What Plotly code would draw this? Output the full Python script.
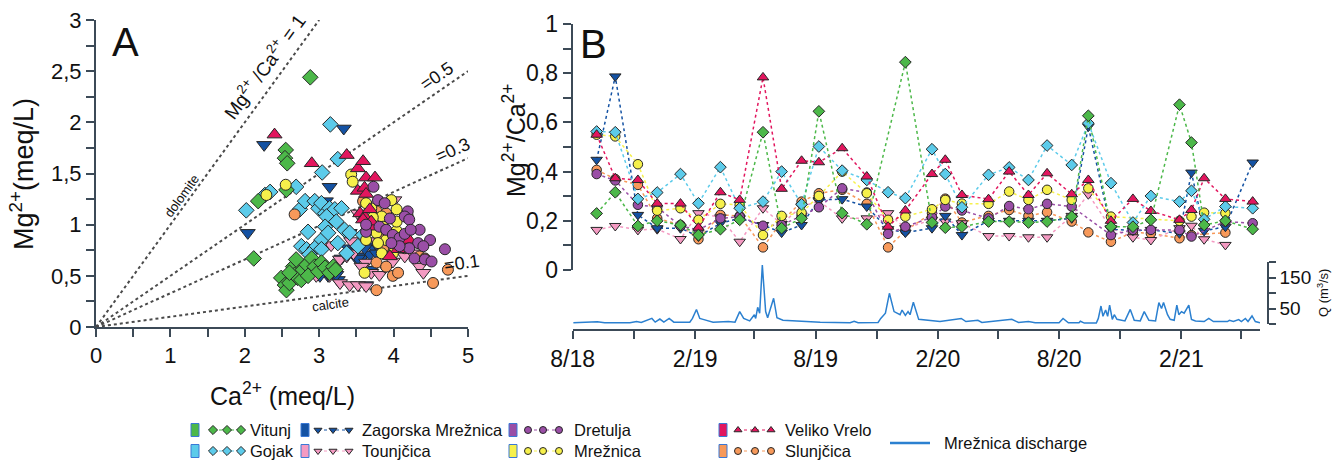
import plotly.graph_objects as go
import pandas as pd

W, H = 1337, 461
FONT = "Liberation Sans, Arial, sans-serif"
NARROW = "Liberation Sans Narrow, Liberation Sans, Arial, sans-serif"

# ---------------- DATA ----------------
series_names = ["Vitunj", "Gojak", "Zagorska Mrežnica", "Tounjčica",
                "Dretulja", "Mrežnica", "Veliko Vrelo", "Slunjčica"]

# Panel A: Ca2+ and Mg2+ (meq/L)
vitunj_ca = [2.88, 2.55, 2.54, 2.57, 2.56, 2.18, 2.12, 2.49, 2.54, 2.56, 2.6, 2.65, 2.67, 2.71, 2.76, 2.78, 2.83, 2.85, 2.9, 2.94, 2.99, 3.03, 3.08, 3.14, 3.19, 3.22, 2.6, 2.69]
vitunj_mg = [2.44, 1.73, 1.65, 1.6, 1.34, 1.23, 0.67, 0.48, 0.41, 0.36, 0.43, 0.59, 0.51, 0.48, 0.46, 0.56, 0.61, 0.5, 0.67, 0.59, 0.54, 0.63, 0.58, 0.53, 0.59, 0.56, 0.53, 0.66]
gojak_ca = [3.15, 2.02, 2.27, 2.34, 2.69, 3.04, 3.25, 2.74, 2.81, 2.94, 2.99, 3.03, 3.08, 3.14, 3.21, 3.3, 3.1, 3.08, 3.23, 3.34, 3.41, 2.85, 3.03, 3.12, 3.25, 2.76, 2.83, 2.94, 3.03, 2.87, 3.52, 3.59, 3.37]
gojak_mg = [1.98, 1.14, 1.29, 1.32, 1.37, 1.51, 1.64, 1.15, 1.23, 1.23, 1.16, 1.21, 1.11, 1.16, 1.15, 1.16, 1.08, 0.98, 1.03, 0.95, 0.92, 0.93, 0.85, 0.92, 0.82, 0.79, 0.76, 0.77, 0.76, 0.71, 0.79, 0.9, 0.72]
zagorska_ca = [3.33, 2.26, 3.14, 2.04, 3.09, 3.25, 3.12, 3.41, 3.39, 3.48, 3.54, 3.59, 3.68, 3.72, 3.63, 3.7, 3.3, 3.01, 3.81, 3.46, 3.23, 3.61, 3.52, 3.77]
zagorska_mg = [1.94, 1.78, 1.37, 0.92, 1.23, 0.46, 0.5, 0.92, 0.77, 0.69, 0.79, 0.69, 0.71, 0.79, 0.41, 0.56, 0.67, 0.5, 0.77, 0.74, 0.51, 0.77, 0.67, 0.72]
tounjcica_ca = [2.96, 3.14, 3.28, 3.41, 3.52, 3.63, 3.7, 3.81, 3.88, 3.28, 3.37, 3.46, 3.16, 3.43, 3.52, 4.01, 3.77, 4.15, 4.26, 4.35, 4.4, 3.63, 3.01, 3.9, 3.57, 3.99]
tounjcica_mg = [0.5, 0.5, 0.43, 0.41, 0.41, 0.4, 0.53, 0.51, 0.59, 0.66, 0.69, 0.72, 0.8, 0.84, 1.11, 1.24, 0.84, 0.69, 0.72, 0.59, 0.53, 0.63, 0.79, 0.72, 0.59, 0.64]
dretulja_ca = [3.73, 3.79, 3.88, 4.19, 4.15, 4.21, 3.63, 3.81, 3.9, 3.99, 4.08, 4.35, 4.49, 4.33, 4.21, 4.08, 4.4, 4.69, 4.28, 4.42, 4.51, 3.97, 4.15, 3.63, 3.95, 4.23]
dretulja_mg = [1.37, 1.24, 1.21, 1.13, 1.08, 1.05, 0.93, 0.98, 0.95, 0.9, 0.87, 0.95, 0.85, 0.82, 0.77, 0.79, 0.79, 0.76, 0.67, 0.66, 0.64, 0.82, 0.91, 1.0, 1.06, 0.95]
mreznica_ca = [2.55, 2.29, 3.43, 3.45, 3.7, 3.63, 3.84, 3.72, 4.04, 4.19, 3.63, 3.93, 3.86, 3.9, 3.77, 3.61, 4.04, 3.99, 3.84, 3.79, 4.04, 3.97]
mreznica_mg = [1.39, 1.29, 1.49, 1.42, 1.16, 1.21, 1.08, 1.07, 1.15, 1.08, 0.85, 0.92, 0.98, 0.85, 0.92, 0.53, 0.94, 0.72, 0.72, 0.82, 1.03, 1.24]
veliko_ca = [2.4, 2.9, 3.37, 3.52, 3.59, 3.52, 3.61, 3.63, 3.75, 3.55, 3.61, 3.68, 3.59, 3.75, 4.06, 3.95, 4.21, 3.7, 3.63]
veliko_mg = [1.88, 1.6, 1.68, 1.55, 1.62, 1.33, 1.36, 1.46, 1.46, 1.11, 1.08, 1.15, 1.05, 0.98, 0.76, 0.69, 0.85, 1.03, 1.3]
slunjcica_ca = [2.67, 3.59, 3.77, 3.9, 3.77, 3.9, 3.99, 4.06, 3.77, 4.53, 4.73, 4.35, 4.42, 3.81, 3.86, 4.06, 4.15]
slunjcica_mg = [1.1, 1.23, 1.13, 1.11, 0.63, 0.59, 0.5, 0.53, 0.36, 0.43, 0.56, 0.69, 0.67, 0.88, 0.77, 0.85, 0.77]

# Reference Mg/Ca ratio lines in panel A
ratio_lines = [1.0, 0.5, 0.33, 0.1]

# Panel B: sampling dates and Mg2+/Ca2+ ratio
sample_dates = ["2018-09-06", "2018-10-04", "2018-11-07", "2018-12-06", "2019-01-10", "2019-02-06",
                "2019-03-11", "2019-04-09", "2019-05-14", "2019-06-11", "2019-07-11", "2019-08-06",
                "2019-09-10", "2019-10-17", "2019-11-18", "2019-12-14", "2020-01-23", "2020-02-12",
                "2020-03-08", "2020-04-17", "2020-05-18", "2020-06-16", "2020-07-14", "2020-08-20",
                "2020-09-14", "2020-10-18", "2020-11-20", "2020-12-17", "2021-01-29", "2021-02-16",
                "2021-03-07", "2021-04-08", "2021-05-19"]
vitunj_ratio = [0.23, 0.316, 0.179, 0.20, 0.183, 0.142, 0.166, 0.204, 0.56, 0.17, 0.21, 0.645, 0.231, 0.186, None, 0.845, 0.193, 0.172, 0.176, 0.197, 0.197, 0.193, 0.197, 0.217, 0.627, 0.176, 0.176, 0.204, 0.672, 0.518, 0.183, 0.20, 0.166]
gojak_ratio = [0.563, 0.56, 0.289, 0.315, 0.39, 0.271, 0.418, 0.251, 0.278, 0.40, 0.267, 0.502, 0.404, 0.366, 0.316, 0.292, 0.491, 0.39, 0.255, 0.387, 0.417, 0.366, 0.506, 0.427, 0.597, 0.353, 0.193, 0.301, 0.278, 0.322, 0.206, 0.258, 0.251]
zagorska_ratio = [0.448, 0.787, 0.224, 0.17, 0.17, 0.136, 0.19, 0.21, 0.183, 0.152, 0.183, 0.285, 0.288, 0.258, 0.166, 0.152, 0.17, 0.22, 0.142, 0.20, 0.20, 0.20, 0.20, 0.21, 0.583, 0.166, 0.16, 0.163, 0.149, 0.396, 0.159, 0.176, 0.437]
tounjcica_ratio = [0.163, 0.179, 0.163, 0.166, 0.126, 0.231, 0.214, 0.115, 0.251, 0.187, 0.258, 0.28, 0.21, 0.21, 0.231, 0.17, 0.204, 0.197, 0.19, 0.138, 0.138, 0.133, 0.133, 0.22, 0.308, 0.17, 0.133, 0.122, 0.17, 0.18, 0.125, 0.102, None]
dretulja_ratio = [0.39, 0.364, 0.265, 0.255, 0.179, 0.163, 0.21, 0.217, 0.18, 0.183, 0.22, 0.255, 0.332, 0.315, 0.147, 0.176, 0.214, 0.258, 0.242, 0.21, 0.26, 0.247, 0.269, 0.258, None, 0.142, 0.163, 0.163, 0.163, 0.136, None, 0.197, 0.19]
mreznica_ratio = [0.55, 0.543, 0.43, 0.241, 0.251, 0.204, 0.269, 0.265, 0.142, 0.22, 0.233, 0.301, 0.40, 0.312, 0.204, 0.217, 0.247, 0.285, 0.27, 0.269, 0.319, 0.285, 0.326, 0.285, 0.332, 0.217, None, None, 0.20, 0.217, 0.233, 0.231, None]
veliko_ratio = [0.55, 0.373, 0.366, 0.27, 0.27, 0.172, 0.316, 0.285, 0.783, 0.33, 0.444, 0.438, 0.495, 0.38, 0.176, 0.242, 0.39, 0.448, 0.305, 0.288, 0.40, 0.305, 0.393, 0.308, 0.366, 0.20, 0.289, 0.24, 0.204, 0.244, 0.373, 0.289, 0.278]
slunjcica_ratio = [0.407, 0.37, 0.346, 0.21, 0.183, 0.125, 0.224, 0.22, 0.092, 0.197, 0.278, 0.312, 0.326, 0.269, 0.092, 0.16, 0.231, 0.29, 0.193, 0.22, 0.244, 0.22, 0.235, 0.197, 0.153, 0.115, 0.153, 0.149, 0.129, 0.142, None, 0.152, None]

# Mrežnica discharge (days after 2018-08-01, m3/s)
q_start = "2018-08-01"
q_day = [1, 37, 48, 86, 96, 103, 119, 124, 131, 137,
         145, 152, 176, 180, 186, 191, 196, 211, 234, 244,
         251, 257, 266, 273, 275, 278, 281, 285, 290, 293,
         302, 307, 316, 342, 372, 417, 423, 429, 459, 463,
         470, 476, 483, 492, 495, 500, 504, 507, 512, 520,
         552, 584, 591, 609, 615, 660, 670, 685, 695, 731,
         737, 745, 761, 763, 769, 787, 790, 794, 797, 801,
         804, 807, 811, 814, 818, 830, 838, 844, 853, 859,
         866, 876, 881, 885, 888, 894, 898, 904, 908, 911,
         915, 919, 922, 926, 930, 936, 949, 956, 963, 984,
         987, 993, 1001, 1005, 1011, 1015, 1021, 1026, 1033]
q_val = [4, 7, 4, 4, 8, 5, 18, 6, 16, 6,
         18, 6, 6, 18, 47, 18, 15, 6, 8, 6,
         40, 18, 10, 30, 18, 54, 35, 190, 40, 20,
         83, 20, 12, 9, 6, 4, 9, 4, 5, 18,
         35, 99, 40, 30, 45, 28, 40, 30, 70, 15,
         8, 18, 8, 12, 5, 15, 5, 8, 4, 4,
         18, 4, 4, 9, 3, 3, 18, 58, 25, 45,
         25, 61, 15, 30, 15, 10, 47, 12, 10, 40,
         12, 10, 69, 50, 69, 30, 15, 12, 61, 30,
         40, 35, 45, 61, 15, 10, 8, 18, 8, 8,
         12, 8, 14, 8, 18, 8, 26, 8, 4]

# Axis tick labels
a_x_ticks = [0, 1, 2, 3, 4, 5]
a_y_ticks = [0, 0.5, 1, 1.5, 2, 2.5, 3]
a_y_text = ["0", "0,5", "1", "1,5", "2", "2,5", "3"]
b_y_ticks = [0, 0.2, 0.4, 0.6, 0.8, 1]
b_y_text = ["0", "0,2", "0,4", "0,6", "0,8", "1"]
time_ticks = ["2018-08-01", "2019-02-01", "2019-08-01", "2020-02-01", "2020-08-01", "2021-02-01"]
time_text = ["8/18", "2/19", "8/19", "2/20", "8/20", "2/21"]
time_minor = ["2018-11-01", "2019-05-01", "2019-11-01", "2020-05-01", "2020-11-01", "2021-05-01"]
q_ticks = [0, 50, 100, 150, 200]
q_text = ["", "50", "", "150", ""]

# ---------------- STYLE ----------------
colors = {"Vitunj": "#4cb849", "Gojak": "#5ccbea", "Zagorska Mrežnica": "#1452a3",
          "Tounjčica": "#f49ac2", "Dretulja": "#9a4ea6", "Mrežnica": "#f6f04b",
          "Veliko Vrelo": "#e2165e", "Slunjčica": "#f7995a"}
symbols = {"Vitunj": "diamond", "Gojak": "diamond", "Zagorska Mrežnica": "triangle-down",
           "Tounjčica": "triangle-down", "Dretulja": "circle", "Mrežnica": "circle",
           "Veliko Vrelo": "triangle-up", "Slunjčica": "circle"}
size_a = {"diamond": 12, "triangle-down": 13, "triangle-up": 13, "circle": 11}
size_b = {"diamond": 9, "triangle-down": 10, "triangle-up": 10, "circle": 9.5}
Q_COLOR = "#2b80d0"
AX = "#3c4a57"
OUTLINE = "#262626"

scatter_a = {"Vitunj": (vitunj_ca, vitunj_mg), "Gojak": (gojak_ca, gojak_mg),
             "Zagorska Mrežnica": (zagorska_ca, zagorska_mg), "Tounjčica": (tounjcica_ca, tounjcica_mg),
             "Dretulja": (dretulja_ca, dretulja_mg), "Mrežnica": (mreznica_ca, mreznica_mg),
             "Veliko Vrelo": (veliko_ca, veliko_mg), "Slunjčica": (slunjcica_ca, slunjcica_mg)}
ratio_b = {"Vitunj": vitunj_ratio, "Gojak": gojak_ratio, "Zagorska Mrežnica": zagorska_ratio,
           "Tounjčica": tounjcica_ratio, "Dretulja": dretulja_ratio, "Mrežnica": mreznica_ratio,
           "Veliko Vrelo": veliko_ratio, "Slunjčica": slunjcica_ratio}


def fx(p):
    return p / W


def fy(p):
    return 1 - p / H


fig = go.Figure()

# ---- Panel A reference lines
for r in ratio_lines:
    x_end = min(5.0, 3.0 / r)
    fig.add_trace(go.Scatter(x=[0, x_end], y=[0, r * x_end], mode="lines",
                             line=dict(color="#4a4a4a", width=2, dash="dot"),
                             xaxis="x", yaxis="y", showlegend=False, hoverinfo="skip"))

# ---- Panel A scatter
order_a = ["Zagorska Mrežnica", "Tounjčica", "Gojak", "Vitunj", "Slunjčica", "Mrežnica", "Veliko Vrelo", "Dretulja"]
for name in order_a:
    ca, mg = scatter_a[name]
    sym = symbols[name]
    fig.add_trace(go.Scatter(x=ca, y=mg, mode="markers", name=name,
                             marker=dict(symbol=sym, size=size_a[sym], color=colors[name],
                                         line=dict(color=OUTLINE, width=1)),
                             xaxis="x", yaxis="y", showlegend=False))

# ---- Panel B ratio series
order_b = ["Slunjčica", "Tounjčica", "Zagorska Mrežnica", "Dretulja", "Mrežnica", "Gojak", "Veliko Vrelo", "Vitunj"]
dates = pd.to_datetime(sample_dates)
for name in order_b:
    sym = symbols[name]
    fig.add_trace(go.Scatter(x=dates, y=ratio_b[name], mode="lines+markers", connectgaps=True,
                             line=dict(color=colors[name], width=1.5, dash="dot"),
                             marker=dict(symbol=sym, size=size_b[sym], color=colors[name],
                                         line=dict(color=OUTLINE, width=1)),
                             xaxis="x2", yaxis="y2", showlegend=False))

# ---- Panel B discharge
q_dates = pd.Timestamp(q_start) + pd.to_timedelta(q_day, unit="D")
fig.add_trace(go.Scatter(x=q_dates, y=q_val, mode="lines", line=dict(color=Q_COLOR, width=1.5),
                         xaxis="x2", yaxis="y3", showlegend=False))

# ---- Legend (drawn on an invisible pixel-space axis)
legend_cols = [  # (square x, marker xs, text x)
    (195, [213, 227, 241], 248),
    (305, [318, 333, 349], 360),
    (513, [528, 543, 559], 572),
    (723, [738, 755, 771], 783),
]
legend_rows = [430, 451]
legend_layout = [["Vitunj", "Gojak"], ["Zagorska Mrežnica", "Tounjčica"],
                 ["Dretulja", "Mrežnica"], ["Veliko Vrelo", "Slunjčica"]]
shapes = []
annotations = []
for (sqx, mxs, tx), pair in zip(legend_cols, legend_layout):
    for row_y, name in zip(legend_rows, pair):
        shapes.append(dict(type="rect", xref="x4", yref="y4", x0=sqx - 4, x1=sqx + 4,
                           y0=row_y - 6.5, y1=row_y + 6.5, fillcolor=colors[name],
                           line=dict(color="#3a78d6", width=1)))
        sym = symbols[name]
        fig.add_trace(go.Scatter(x=mxs, y=[row_y] * 3, mode="lines+markers",
                                 line=dict(color=colors[name], width=1, dash="dot"),
                                 marker=dict(symbol=sym, size=7, color=colors[name],
                                             line=dict(color=OUTLINE, width=1)),
                                 xaxis="x4", yaxis="y4", showlegend=False, hoverinfo="skip"))
        annotations.append(dict(x=tx, y=row_y, xref="x4", yref="y4", text=name, showarrow=False,
                                xanchor="left", yanchor="middle",
                                font=dict(family=FONT, size=16.5, color="#111")))
fig.add_trace(go.Scatter(x=[890, 930], y=[443, 443], mode="lines", line=dict(color=Q_COLOR, width=2.5),
                         xaxis="x4", yaxis="y4", showlegend=False, hoverinfo="skip"))
annotations.append(dict(x=942, y=443, xref="x4", yref="y4", text="Mrežnica discharge", showarrow=False,
                        xanchor="left", yanchor="middle", font=dict(family=FONT, size=16.5, color="#111")))


def ann(x, y, text, size, angle=0, family=FONT, xanchor="center"):
    annotations.append(dict(x=fx(x), y=fy(y), xref="paper", yref="paper", text=text, showarrow=False,
                            textangle=angle, xanchor=xanchor, yanchor="middle",
                            font=dict(family=family, size=size, color="#111")))


ann(125, 42, "A", 40)
ann(593, 44, "B", 40)
ann(264, 66, "Mg<sup>2+</sup> /Ca<sup>2+</sup> = 1", 19, -54)
ann(181, 196, "dolomite", 13, -54)
ann(437, 76, "=0.5", 18, -34)
ann(453, 150, "=0.3", 18, -24)
ann(462, 263, "=0.1", 18, -8)
ann(330, 304, "calcite", 13, -8)
ann(22, 174, "Mg<sup>2+</sup>(meq/L)", 27, -90)
ann(282, 394, "Ca<sup>2+</sup> (meq/L)", 25)
ann(514, 140, "Mg<sup>2+</sup>/Ca<sup>2+</sup>", 25, -90)
ann(1323, 293, "Q (m<sup>3</sup>/s)", 13, -90)

axis_common = dict(showgrid=False, zeroline=False, showline=True, linecolor=AX, linewidth=2,
                   ticks="outside", tickcolor=AX, tickwidth=1.5, ticklen=8, automargin=False,
                   tickfont=dict(family=FONT, size=22, color="#111"))

fig.update_layout(
    width=W, height=H, margin=dict(l=0, r=0, t=0, b=0, autoexpand=False),
    paper_bgcolor="white", plot_bgcolor="rgba(0,0,0,0)",
    showlegend=False,
    xaxis=dict(domain=[fx(96), fx(468)], range=[0, 5], anchor="y", tickvals=a_x_ticks,
               minor=dict(dtick=0.5, tick0=0, ticks="outside", ticklen=8, tickcolor=AX, tickwidth=1.5),
               **axis_common),
    yaxis=dict(domain=[fy(327), fy(20)], range=[0, 3], anchor="x", tickvals=a_y_ticks, ticktext=a_y_text,
               minor=dict(dtick=0.25, tick0=0, ticks="outside", ticklen=8, tickcolor=AX, tickwidth=1.5),
               **axis_common),
    xaxis2=dict(domain=[fx(572.7), fx(1260)], type="date", range=["2018-08-01", "2021-05-30"],
                anchor="free", position=fy(330), tickvals=time_ticks, ticktext=time_text,
                minor=dict(tickvals=time_minor, ticks="outside", ticklen=8, tickcolor=AX, tickwidth=1.5),
                **{**axis_common, "tickfont": dict(family=NARROW, size=23, color="#111")}),
    yaxis2=dict(domain=[fy(270), fy(24)], range=[0, 1], anchor="x2", tickvals=b_y_ticks, ticktext=b_y_text,
                minor=dict(dtick=0.1, tick0=0, ticks="outside", ticklen=8, tickcolor=AX, tickwidth=1.5),
                **{**axis_common, "tickfont": dict(family=NARROW, size=23, color="#111")}),
    yaxis3=dict(domain=[fy(324), fy(262)], range=[0, 200], anchor="free", position=fx(1268), side="right",
                tickvals=q_ticks, ticktext=q_text,
                **{**axis_common, "linewidth": 1.5, "ticklen": 7,
                   "tickfont": dict(family=NARROW, size=19, color="#111")}),
    xaxis4=dict(domain=[0, 1], range=[0, W], visible=False, anchor="y4", automargin=False),
    yaxis4=dict(domain=[0, 1], range=[H, 0], visible=False, anchor="x4", automargin=False),
    shapes=shapes,
    annotations=annotations,
)

fig.write_html("out.html", config={"displayModeBar": False},
               post_script="document.body.style.margin='0px';document.body.style.overflow='hidden';")
